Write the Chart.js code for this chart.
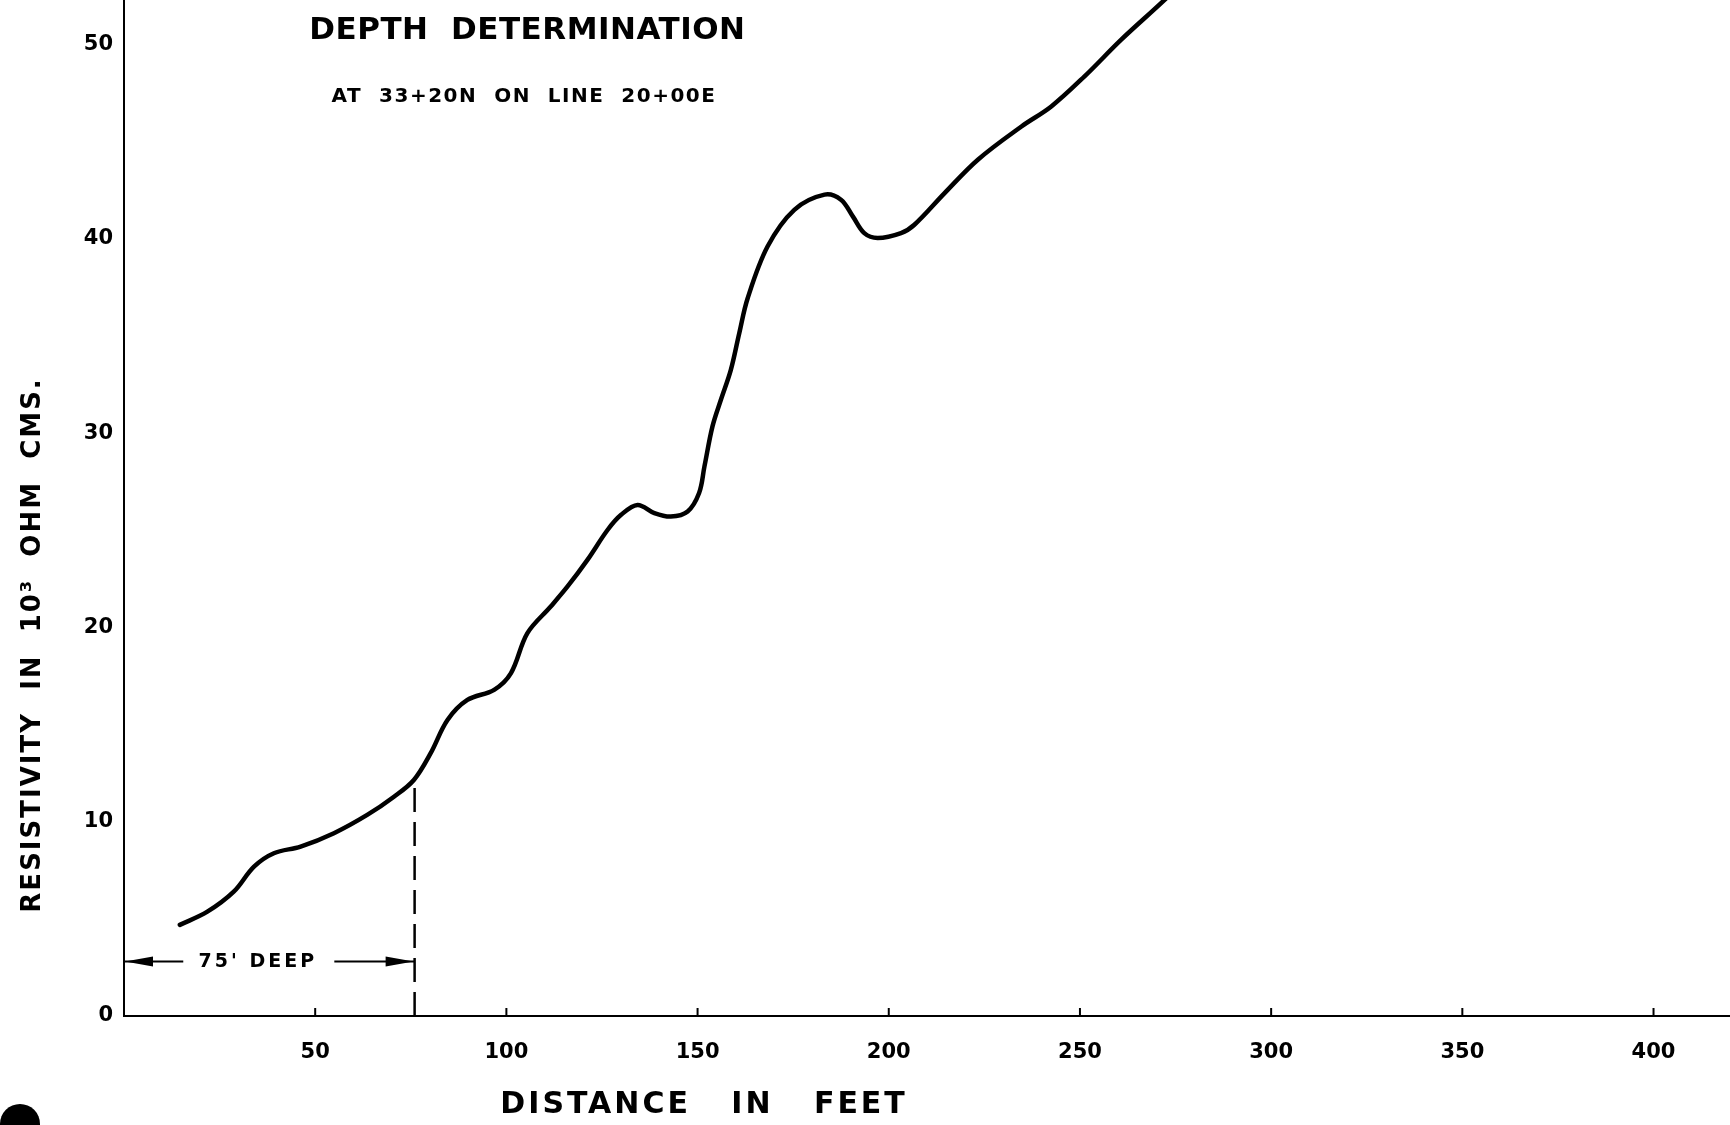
<!DOCTYPE html>
<html>
<head>
<meta charset="utf-8">
<script src="https://cdn.jsdelivr.net/npm/chart.js@4.4.1/dist/chart.umd.min.js"></script>
<style>
    html, body { margin: 0; padding: 0; background: #ffffff; }
    #wrap { width: 1730px; height: 1125px; position: relative; }
</style>
</head>
<body>
<div id="wrap"><canvas id="depthChart"></canvas></div>
<script>
/*==================================================
DATA
==================================================*/

const distanceFeet = [
    14.6, 21.8, 28.7, 34.0, 39.2, 46.2, 54.9, 63.6, 70.6, 75.8,
    80.2, 84.6, 89.8, 96.8, 101.2, 105.5, 111.6, 116.0, 121.2, 126.5,
    130.0, 134.3, 138.7, 143.0, 147.4, 150.4, 151.8, 153.9, 156.1, 158.7,
    160.9, 163.1, 168.3, 175.3, 183.2, 187.5, 190.6, 193.6, 197.1, 203.2,
    206.7, 214.6, 223.3, 234.7, 242.5, 251.2, 260.8, 272.2, 275.0
];

const resistivity = [
    4.69, 5.37, 6.40, 7.69, 8.38, 8.72, 9.41, 10.35, 11.29, 12.15,
    13.53, 15.24, 16.27, 16.79, 17.65, 19.71, 21.08, 22.11, 23.48, 25.03,
    25.80, 26.31, 25.89, 25.71, 25.97, 26.92, 28.29, 30.35, 31.72, 33.26,
    35.15, 36.95, 39.61, 41.50, 42.28, 42.02, 41.16, 40.30, 40.05, 40.30,
    40.73, 42.36, 44.08, 45.79, 46.82, 48.37, 50.26, 52.32, 52.9
];

const xTickValues = [50, 100, 150, 200, 250, 300, 350, 400];
const yTickValues = [0, 10, 20, 30, 40, 50];

const depthFeet = 76;
const depthResistivity = 12.15;
const arrowLevel = 2.8;
const arrowLeftEnd = [0, 15.5];
const arrowRightEnd = [55, 76];

const titleText = "DEPTH  DETERMINATION";
const subtitleText = "AT  33+20N  ON  LINE  20+00E";
const xAxisText = "DISTANCE   IN   FEET";
const yAxisText = "RESISTIVITY  IN  10\u00B3  OHM  CMS.";
const depthText = "75' DEEP";

/*==================================================
DECORATION PLUGIN
==================================================*/

const FONT = "'DejaVu Sans', sans-serif";

function arrowHead(ctx, x, y, dir) {

    ctx.beginPath();
    ctx.moveTo(x, y);
    ctx.lineTo(x - dir * 28, y - 5);
    ctx.lineTo(x - dir * 28, y + 5);
    ctx.closePath();
    ctx.fill();

}

const sketchPlugin = {

    id: "sketch",

    afterDraw(chart) {

        const ctx = chart.ctx;
        const xs = chart.scales.x;
        const ys = chart.scales.y;

        ctx.save();
        ctx.fillStyle = "#000";
        ctx.strokeStyle = "#000";

        // small tick marks on the distance axis
        ctx.lineWidth = 2;
        xTickValues.forEach(v => {
            const px = xs.getPixelForValue(v);
            ctx.beginPath();
            ctx.moveTo(px, ys.getPixelForValue(0));
            ctx.lineTo(px, ys.getPixelForValue(0) - 8);
            ctx.stroke();
        });

        // arrowheads of the depth dimension
        const ay = ys.getPixelForValue(arrowLevel);
        arrowHead(ctx, xs.getPixelForValue(arrowLeftEnd[0]) + 1, ay, -1);
        arrowHead(ctx, xs.getPixelForValue(arrowRightEnd[1]) - 1, ay, 1);

        ctx.textAlign = "center";
        ctx.textBaseline = "middle";

        ctx.font = "bold 19px " + FONT;
        ctx.letterSpacing = "3px";
        ctx.fillText(depthText, xs.getPixelForValue(35), ay);

        ctx.font = "bold 31px " + FONT;
        ctx.letterSpacing = "0.5px";
        ctx.fillText(titleText, xs.getPixelForValue(105.5), ys.getPixelForValue(50.7));

        ctx.font = "bold 20px " + FONT;
        ctx.letterSpacing = "1.5px";
        ctx.fillText(subtitleText, xs.getPixelForValue(104.6), ys.getPixelForValue(47.3));

        ctx.font = "bold 30px " + FONT;
        ctx.letterSpacing = "3px";
        ctx.fillText(xAxisText, xs.getPixelForValue(151.7), 1105);

        ctx.save();
        ctx.translate(33, ys.getPixelForValue(19.1));
        ctx.rotate(-Math.PI / 2);
        ctx.font = "bold 26px " + FONT;
        ctx.letterSpacing = "2px";
        ctx.fillText(yAxisText, 0, 0);
        ctx.restore();

        // punched hole
        ctx.beginPath();
        ctx.arc(20, 1124, 20, 0, Math.PI * 2);
        ctx.fill();

        ctx.restore();

    }

};

/*==================================================
CHART
==================================================*/

const curvePoints = distanceFeet.map((d, i) => ({ x: d, y: resistivity[i] }));

new Chart(document.getElementById("depthChart"), {

    type: "scatter",

    data: {

        datasets: [

            {
                data: curvePoints,
                showLine: true,
                borderColor: "#000",
                borderWidth: 4.5,
                pointRadius: 0,
                tension: 0.35,
                borderCapStyle: "round"
            },

            {
                data: [{ x: depthFeet, y: 0 }, { x: depthFeet, y: depthResistivity }],
                showLine: true,
                borderColor: "#000",
                borderWidth: 2.5,
                borderDash: [24, 10],
                pointRadius: 0
            },

            {
                data: [{ x: arrowLeftEnd[0], y: arrowLevel }, { x: arrowLeftEnd[1], y: arrowLevel }],
                showLine: true,
                borderColor: "#000",
                borderWidth: 2,
                pointRadius: 0
            },

            {
                data: [{ x: arrowRightEnd[0], y: arrowLevel }, { x: arrowRightEnd[1], y: arrowLevel }],
                showLine: true,
                borderColor: "#000",
                borderWidth: 2,
                pointRadius: 0
            }

        ]

    },

    options: {

        responsive: true,

        maintainAspectRatio: false,

        animation: false,

        layout: { padding: 0 },

        plugins: {
            legend: { display: false },
            tooltip: { enabled: false }
        },

        scales: {

            x: {
                type: "linear",
                min: 0,
                max: 420,
                afterBuildTicks: scale => {
                    scale.ticks = xTickValues.map(v => ({ value: v }));
                },
                afterFit: scale => {
                    scale.height = 109;
                    scale.paddingLeft = 0;
                    scale.paddingRight = 0;
                },
                grid: { display: false, drawTicks: false },
                border: { color: "#000", width: 2 },
                ticks: {
                    color: "#000",
                    padding: 24,
                    maxRotation: 0,
                    autoSkip: false,
                    font: { family: "DejaVu Sans", weight: "bold", size: 21 }
                }
            },

            y: {
                type: "linear",
                min: 0,
                max: 52.3,
                afterBuildTicks: scale => {
                    scale.ticks = yTickValues.map(v => ({ value: v }));
                },
                afterFit: scale => {
                    scale.width = 124;
                    scale.paddingTop = 0;
                    scale.paddingBottom = 0;
                },
                grid: { display: false, drawTicks: false },
                border: { color: "#000", width: 2 },
                ticks: {
                    color: "#000",
                    padding: 11,
                    autoSkip: false,
                    font: { family: "DejaVu Sans", weight: "bold", size: 21 }
                }
            }

        }

    },

    plugins: [sketchPlugin]

});
</script>
</body>
</html>
